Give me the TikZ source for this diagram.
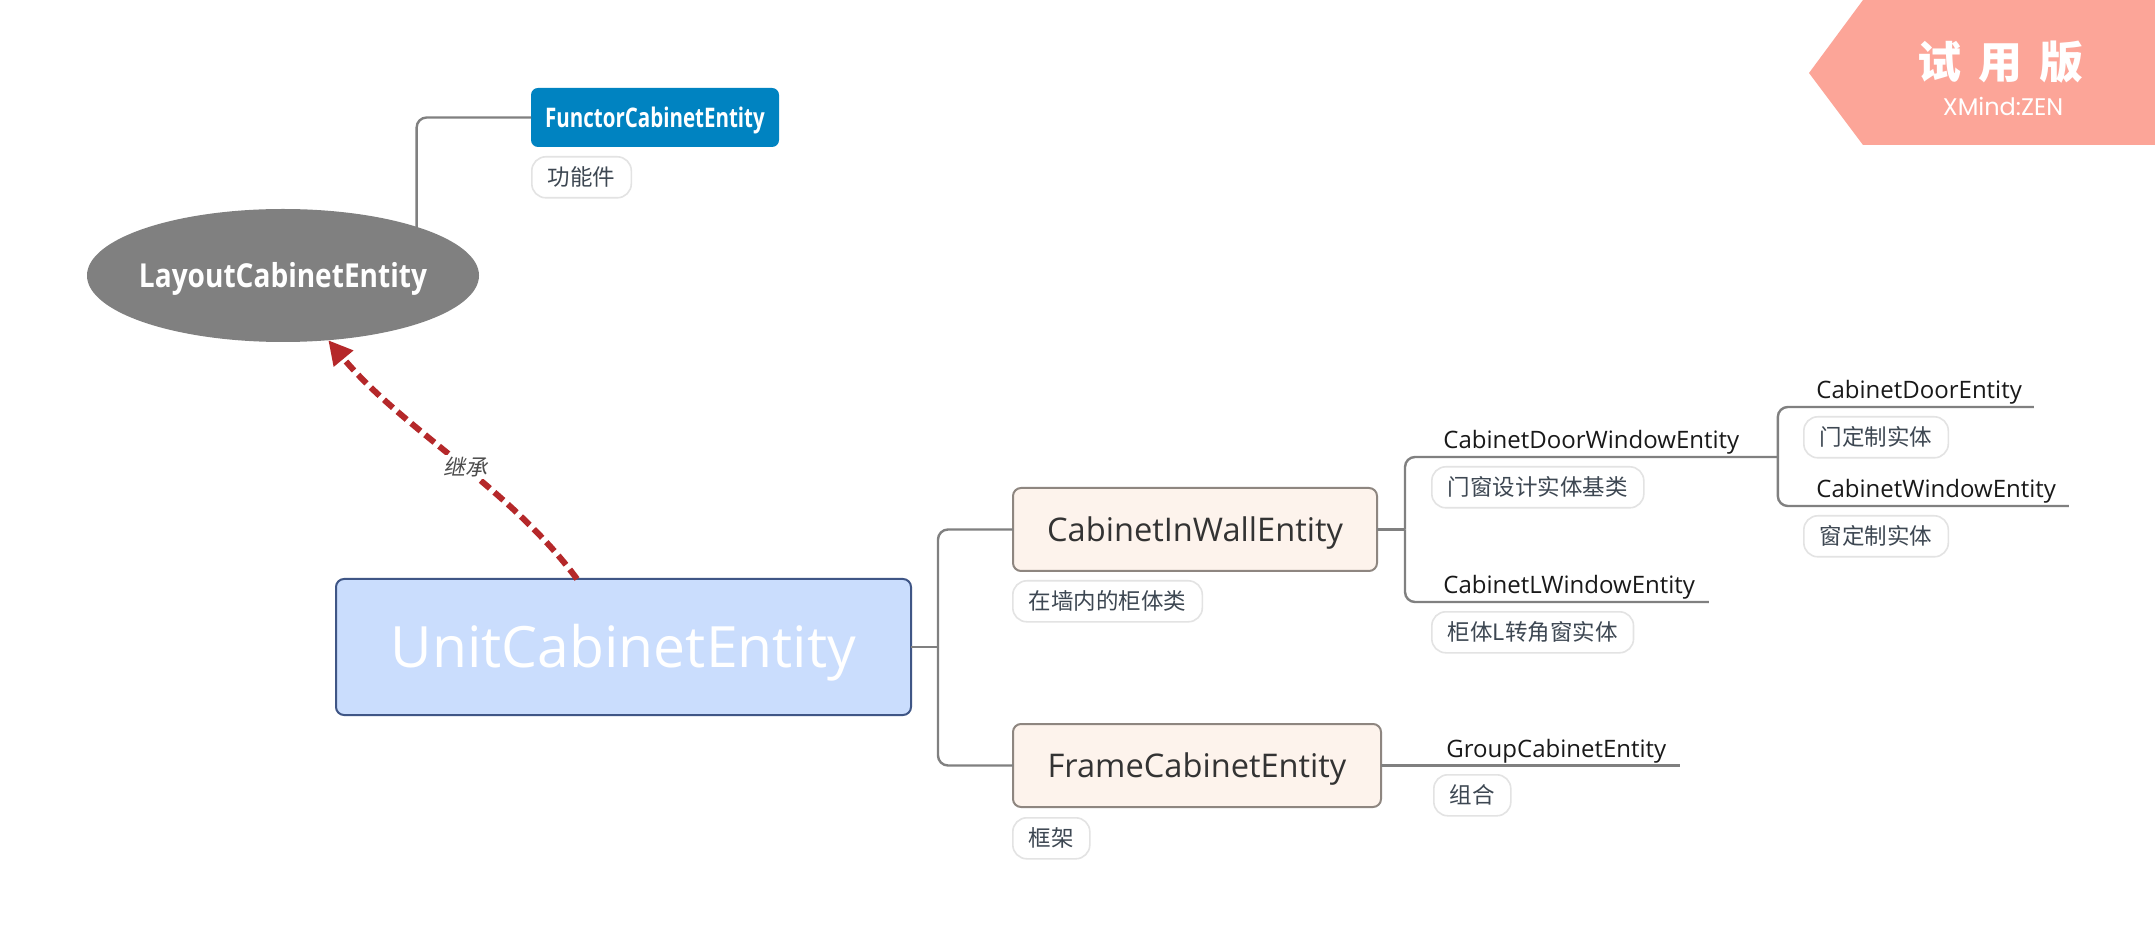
\documentclass[tikz,border=0pt]{standalone}
\usepackage{fontspec}
\setmainfont{Open Sans}
\newfontfamily\narrowsans[FakeStretch=0.85]{Open Sans}
\newfontfamily\condsans[FakeStretch=0.76]{Open Sans}
\newfontfamily\cjk{Noto Sans CJK SC}
\newfontfamily\cjkit[FakeSlant=0.2]{Noto Sans CJK SC}
\newfontfamily\wmfont{Poppins}
\usetikzlibrary{arrows.meta,shapes.geometric}

\definecolor{wmsalmon}{HTML}{FCA598}
\definecolor{layoutgray}{HTML}{808080}
\definecolor{functorblue}{HTML}{0083C1}
\definecolor{unitfill}{HTML}{CADDFD}
\definecolor{unitborder}{HTML}{3F5686}
\definecolor{subfill}{HTML}{FDF3EC}
\definecolor{subborder}{HTML}{8E8680}
\definecolor{linkgray}{HTML}{808080}
\definecolor{taggray}{HTML}{E3E3E3}
\definecolor{tagtext}{HTML}{3D4752}
\definecolor{inheritred}{HTML}{B5282A}

\newcommand{\leaftext}[2]{\makebox[#1][l]{#2}}

\tikzset{
  conn/.style={draw=linkgray, line width=1.2pt},
  sub/.style={draw=subborder, fill=subfill, line width=1pt, rounded corners=4pt,
    minimum width=182pt, minimum height=41.5pt, outer sep=0pt,
    text height=11.6pt, text depth=0pt,
    font=\fontsize{16.3}{19}\selectfont, text=black!80},
  leaf/.style={anchor=south west, inner xsep=0pt, inner ysep=1pt, text depth=3pt,
    font=\fontsize{12}{14}\selectfont, text=black!90},
  tag/.style={anchor=north west, draw=taggray, line width=0.8pt, fill=white,
    rounded corners=7pt, minimum height=20.5pt, inner xsep=8pt, inner ysep=0pt,
    font=\cjk\fontsize{11.25}{13}\selectfont, text=tagtext},
}

\begin{document}
\begin{tikzpicture}[x=0.5pt,y=0.5pt,yscale=-1]
  \fill[white] (0,0) rectangle (2155,945);
  \useasboundingbox (0,0) rectangle (2155,945);

  % trial watermark
  \fill[wmsalmon] (1809,73) -- (1863,0) -- (2155,0) -- (2155,145) -- (1863,145) -- cycle;
  \node[text=white, font=\cjk\bfseries\fontsize{22}{24}\selectfont] (trial) at (2000,62) {试\hspace{8.5pt}用\hspace{8.5pt}版};
  \node[text=white, font=\wmfont\fontsize{12}{14}\selectfont] (brand) at (2003,106) {XMind:ZEN};

  % base class
  \node[ellipse, fill=layoutgray, minimum width=196pt, minimum height=66.5pt, inner sep=0pt, outer sep=0pt,
    label={[text=white, text height=11.7pt, text depth=0pt, font=\narrowsans\bfseries\fontsize{16.5}{19}\selectfont]center:LayoutCabinetEntity}] (layout) at (283,275.5) {};
  \node[fill=functorblue, rounded corners=3.5pt, minimum width=124pt, minimum height=29.5pt, outer sep=0pt,
    text height=9.6pt, text depth=0pt, text=white, font=\condsans\bfseries\fontsize{13.5}{15}\selectfont] (functor) at (655,117.5) {FunctorCabinetEntity};
  \node[tag] (functortag) at (531,156) {功能件};

  % central topic
  \node[draw=unitborder, fill=unitfill, line width=1pt, rounded corners=4pt, minimum width=287.5pt, minimum height=68pt,
    outer sep=0pt, text height=20.3pt, text depth=0pt, text=white, font=\fontsize{28.5}{32}\selectfont] (unit) at (623.5,647) {UnitCabinetEntity};

  % main branches
  \node[sub] (inwall) at (1195,529.5) {CabinetInWallEntity};
  \node[tag] (inwalltag) at (1012,580) {在墙内的柜体类};
  \node[sub, minimum width=184pt] (frame) at (1197,765.5) {FrameCabinetEntity};
  \node[tag] (frametag) at (1012,817) {框架};

  % sub topics
  \node[leaf] (dw) at (1443,457) {\leaftext{167pt}{CabinetDoorWindowEntity}};
  \node[tag] (dwtag) at (1431,466) {门窗设计实体基类};
  \node[leaf] (lw) at (1443,602) {\leaftext{132.5pt}{CabinetLWindowEntity}};
  \node[tag] (lwtag) at (1431,611) {柜体L转角窗实体};
  \node[leaf] (door) at (1816,407) {\leaftext{108.5pt}{CabinetDoorEntity}};
  \node[tag] (doortag) at (1803,416) {门定制实体};
  \node[leaf] (window) at (1816,506) {\leaftext{126pt}{CabinetWindowEntity}};
  \node[tag] (windowtag) at (1803,515) {窗定制实体};
  \node[leaf] (group) at (1446,765.5) {\leaftext{116.5pt}{GroupCabinetEntity}};
  \node[tag] (grouptag) at (1433,774) {组合};

  % connectors
  \coordinate (j0) at ([xshift=13.5pt]unit.east);
  \coordinate (j1) at ([xshift=14pt]inwall.east);
  \draw[conn] (unit.east) -- (j0);
  \draw[conn, rounded corners=5pt] (j0) |- (inwall.west);
  \draw[conn, rounded corners=5pt] (j0) |- (frame.west);
  \draw[conn] (inwall.east) -- (j1);
  \draw[conn, rounded corners=5pt] (j1) |- (dw.south east);
  \draw[conn, rounded corners=5pt] (j1) |- (lw.south east);
  \draw[conn, rounded corners=5pt] (dw.south east) |- (door.south east);
  \draw[conn, rounded corners=5pt] (dw.south east) |- (window.south east);
  \draw[conn] (frame.east) -- (group.south east);
  \draw[conn, rounded corners=5pt] (layout.20.7) |- (functor.west);

  % inheritance
  \draw[inheritred, line width=3pt, dash pattern=on 6pt off 3pt, -{Triangle[length=12pt,width=12pt]}]
    ([xshift=-23.25pt]unit.north) .. controls (509,487) and (401,428) .. (layout.-55.8)
    node[pos=0.46, fill=white, inner sep=1pt, text=black!70, font=\cjkit\fontsize{11}{12}\selectfont] (inherit) {继承};
\end{tikzpicture}
\end{document}
